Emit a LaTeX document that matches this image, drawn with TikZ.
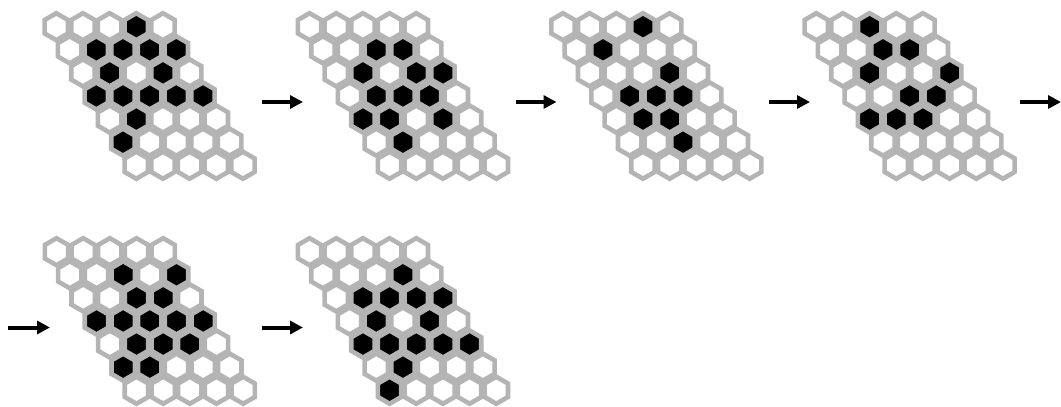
\documentclass[tikz,border=0pt]{standalone}
\usepackage{xcolor}
\usepackage{tikz}
\usetikzlibrary{arrows.meta,shapes.geometric}
\definecolor{hexgray}{HTML}{B4B4B4}

\begin{document}
\begin{tikzpicture}[x=1pt,y=-1pt,
  hexcell/.style={regular polygon, regular polygon sides=6, regular polygon rotate=30,
                  draw=hexgray, line width=4.6pt, minimum size=27pt, inner sep=0pt, outer sep=0pt},
  arrow/.style={-{Triangle[length=13pt,width=13pt]}, line width=4pt, draw=black}
]
  \useasboundingbox (0,0) rectangle (1061,407);
  % one board per step, rows top to bottom, 1 = live cell
  \foreach \g/\ox/\oy/\rows in {
      1/56.3/26.7/{{0,0,0,1,0},{0,1,1,1,1},{0,1,0,1,0},{1,1,1,1,1},{0,1,0,0,0},{1,0,0,0,0},{0,0,0,0,0}},
      2/309.6/26.7/{{0,0,0,0,0},{0,0,1,1,0},{0,1,0,1,1},{0,1,1,1,0},{1,1,0,1,0},{0,1,0,0,0},{0,0,0,0,0}},
      3/563/26.7/{{0,0,0,1,0},{0,1,0,0,0},{0,0,0,1,0},{0,1,1,1,0},{0,1,1,0,0},{0,0,1,0,0},{0,0,0,0,0}},
      4/816.3/26.7/{{0,0,1,0,0},{0,0,1,1,0},{0,1,0,0,1},{0,0,1,1,0},{1,1,1,0,0},{0,0,0,0,0},{0,0,0,0,0}},
      5/56.5/251.7/{{0,0,0,0,0},{0,0,1,0,1},{0,0,1,1,0},{1,1,1,1,1},{0,1,1,1,0},{1,1,0,0,0},{0,0,0,0,0}},
      6/309.6/251.7/{{0,0,0,0,0},{0,0,0,1,0},{0,1,1,1,1},{0,1,0,1,0},{1,1,1,1,1},{0,1,0,0,0},{1,0,0,0,0}}}{
    \foreach \row [count=\r from 0] in \rows {
      \foreach \v [count=\c from 0] in \row {
        \ifnum\v=1 \colorlet{cellfill}{black}\else\colorlet{cellfill}{white}\fi
        \node[hexcell, fill=cellfill] (g\g-\r-\c) at ({\ox+26.67*\c+13.33*\r},{\oy+23.09*\r}) {};
      }
    }
  }
  % arrows between the steps
  \coordinate (s1) at (262,102);   \coordinate (e1) at (303,102);
  \coordinate (s2) at (515.5,102); \coordinate (e2) at (556.5,102);
  \coordinate (s3) at (769,102);   \coordinate (e3) at (810,102);
  \coordinate (s4) at (1020,102);  \coordinate (e4) at (1061,102);
  \coordinate (s5) at (8,327.5);   \coordinate (e5) at (50,327.5);
  \coordinate (s6) at (262,327.5); \coordinate (e6) at (303,327.5);
  \foreach \i in {1,...,6}{\draw[arrow] (s\i) -- (e\i);}
\end{tikzpicture}
\end{document}
